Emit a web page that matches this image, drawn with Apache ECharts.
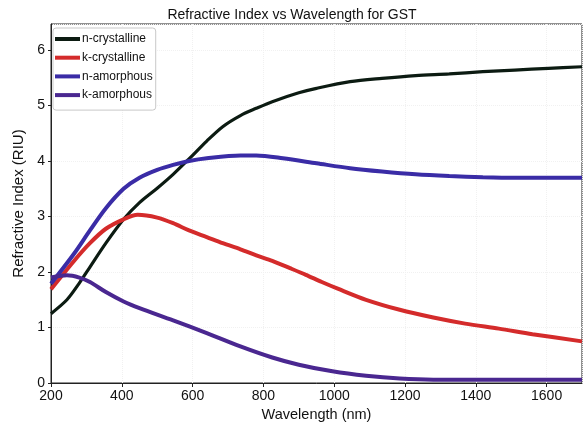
<!DOCTYPE html>
<html><head><meta charset="utf-8">
<script src="https://cdn.jsdelivr.net/npm/echarts@6/dist/echarts.min.js"></script>
<style>html,body{margin:0;padding:0;background:#fff}#c{width:584px;height:429px}</style>
</head><body><div id="c"></div>
<script>
var nCryst = [[200,1.25],[245,1.50],[280,1.80],[310,2.09],[355,2.52],[405,2.95],[450,3.25],[500,3.51],[545,3.76],[590,4.04],[640,4.36],[685,4.62],[735,4.82],[780,4.95],[825,5.07],[900,5.23],[950,5.31],[1045,5.43],[1135,5.49],[1230,5.54],[1325,5.57],[1420,5.61],[1510,5.64],[1605,5.67],[1700,5.70]];
var kCryst = [[200,1.69],[265,2.20],[310,2.52],[355,2.78],[405,2.95],[445,3.03],[500,2.98],[545,2.88],[590,2.75],[640,2.63],[685,2.52],[735,2.41],[780,2.30],[825,2.20],[875,2.07],[920,1.95],[965,1.82],[1010,1.70],[1090,1.50],[1185,1.32],[1280,1.18],[1370,1.07],[1465,0.98],[1560,0.88],[1700,0.75]];
var nAmor = [[200,1.79],[265,2.33],[310,2.75],[355,3.15],[405,3.50],[450,3.70],[500,3.84],[545,3.93],[590,4.00],[640,4.05],[735,4.10],[780,4.10],[855,4.05],[950,3.96],[1045,3.87],[1135,3.81],[1230,3.76],[1325,3.73],[1420,3.71],[1510,3.70],[1700,3.70]];
var kAmor = [[200,1.90],[245,1.94],[280,1.90],[310,1.82],[355,1.64],[405,1.47],[450,1.35],[545,1.13],[640,0.90],[735,0.66],[825,0.46],[900,0.33],[995,0.21],[1090,0.13],[1185,0.08],[1280,0.06],[1700,0.06]];
var names = ['n-crystalline','k-crystalline','n-amorphous','k-amorphous'];
var colors = ['#0c1b12','#d42b2b','#3a2ca6','#4a2790'];
var widths = [3.2,4,4,4];
var chart = echarts.init(document.getElementById('c'));
var F = 'Liberation Sans, Arial, sans-serif';
function s(i, d){return {name:names[i],type:'line',data:d,smooth:0.3,symbol:'none',lineStyle:{color:colors[i],width:widths[i]},itemStyle:{color:colors[i]}};}
chart.setOption({
  animation:false,
  title:{text:'Refractive Index vs Wavelength for GST',left:'center',top:3,textStyle:{fontFamily:F,fontSize:14,fontWeight:'normal',color:'#111'}},
  grid:{left:51,right:2,top:24,bottom:46,show:true,borderColor:'#222',borderWidth:1,outerBoundsMode:'none',containLabel:false},
  legend:{data:names,orient:'vertical',left:53,top:28,itemWidth:25,itemHeight:4,itemGap:4.7,icon:'rect',
    backgroundColor:'#fff',borderColor:'#c8c8c8',borderWidth:1,borderRadius:3,padding:[4,3,8,2],
    textStyle:{fontFamily:F,fontSize:12,lineHeight:14,color:'#111',padding:[0,0,0,-3]}},
  xAxis:{type:'value',min:200,max:1700,interval:200,name:'Wavelength (nm)',nameLocation:'middle',nameGap:20,
    nameTextStyle:{fontFamily:F,fontSize:14.5,color:'#111'},
    axisLine:{lineStyle:{color:'#222'}},axisTick:{length:4,lineStyle:{color:'#222'}},
    axisLabel:{fontFamily:F,fontSize:14,color:'#111',margin:6,showMaxLabel:false,formatter:function(v){return String(v);}},
    splitLine:{show:true,lineStyle:{color:'#f1f1f1',type:'dotted'}}},
  yAxis:{type:'value',min:0,max:6.47,interval:1,name:'Refractive Index (RIU)',nameLocation:'middle',nameGap:22,
    nameTextStyle:{fontFamily:F,fontSize:15,color:'#111'},
    axisLine:{show:true,lineStyle:{color:'#222'}},axisTick:{show:true,length:3,lineStyle:{color:'#222'}},
    axisLabel:{fontFamily:F,fontSize:14,color:'#111',margin:6,showMaxLabel:false},
    splitLine:{show:true,lineStyle:{color:'#f1f1f1',type:'dotted'}}},
  series:[s(0,nCryst),s(1,kCryst),s(2,nAmor),s(3,kAmor)]
});
</script></body></html>
